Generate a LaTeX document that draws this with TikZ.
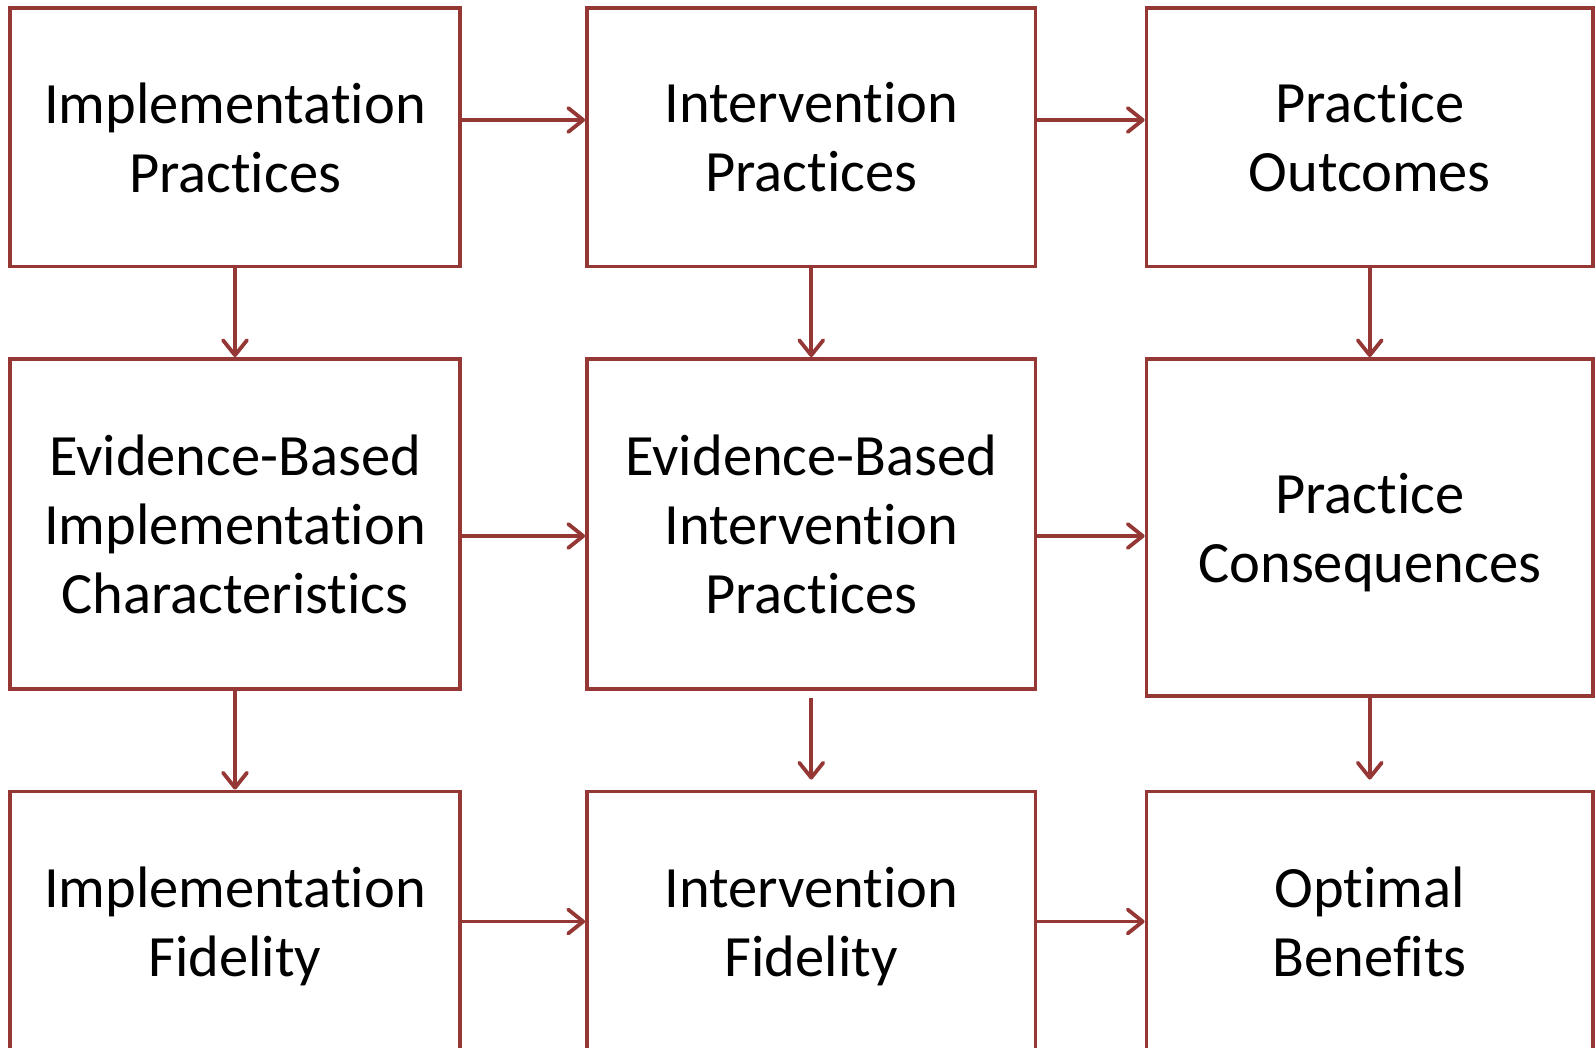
\documentclass[tikz,border=0pt]{standalone}
\usepackage{fontspec}
\setmainfont{Carlito}[RawFeature={-liga;-dlig;-clig;-calt}]
\usetikzlibrary{arrows.meta,calc}
\definecolor{boxred}{RGB}{149,55,53}
\tikzset{
  box/.style={draw=boxred, line width=3.8pt, rectangle, inner sep=0pt, align=center,
    font=\fontsize{58.5}{69}\selectfont, text=black, text depth=0pt},
  arr/.style={draw=boxred, line width=3.8pt, -{Straight Barb[length=15pt,width=24pt,line width=3.8pt,round]}}
}
\begin{document}
\begin{tikzpicture}[x=1pt,y=-1pt]
\clip (0,0) rectangle (1595,1048);
\useasboundingbox (0,0) rectangle (1595,1048);
% row 1
\node[box, minimum width=450pt, minimum height=258.5pt] (a11) at (235,137.25) {Implementation\\Practices};
\node[box, minimum width=448.5pt, minimum height=258.5pt] (a12) at (811.25,137.25) {Intervention\\Practices};
\node[box, minimum width=446.5pt, minimum height=258.5pt] (a13) at (1369.75,137.25) {Practice\\Outcomes};
% row 2
\node[box, minimum width=450pt, minimum height=330pt] (a21) at (235,524) {Evidence-Based\\Implementation\\Characteristics};
\node[box, minimum width=448.5pt, minimum height=330pt] (a22) at (811.25,524) {Evidence-Based\\Intervention\\Practices};
\node[box, minimum width=446.5pt, minimum height=337pt] (a23) at (1369.75,527.5) {Practice\\Consequences};
% row 3
\node[box, minimum width=450pt, minimum height=261pt] (a31) at (235,922) {Implementation\\Fidelity};
\node[box, minimum width=448.5pt, minimum height=261pt] (a32) at (811.25,922) {Intervention\\Fidelity};
\node[box, minimum width=446.5pt, minimum height=261pt] (a33) at (1369.75,922) {Optimal\\Benefits};
% row levels for horizontal arrows
\coordinate (r1) at (0,120);
\coordinate (r2) at (0,536);
\coordinate (r3) at (0,921.5);
% horizontal arrows
\draw[arr] (a11.east |- r1) -- (a12.west |- r1);
\draw[arr] (a12.east |- r1) -- (a13.west |- r1);
\draw[arr] (a21.east |- r2) -- (a22.west |- r2);
\draw[arr] (a22.east |- r2) -- (a23.west |- r2);
\draw[arr] (a31.east |- r3) -- (a32.west |- r3);
\draw[arr] (a32.east |- r3) -- (a33.west |- r3);
% vertical arrows
\draw[arr] (a11.south) -- (a21.north);
\draw[arr] (a12.south) -- (a22.north);
\draw[arr] (a13.south) -- (a23.north);
\draw[arr] (a21.south) -- (a31.north);
\draw[arr] ($(a22.south)+(0,7)$) -- ($(a32.north)+(0,-10)$);
\draw[arr] (a23.south) -- ($(a33.north)+(0,-10)$);
\end{tikzpicture}
\end{document}
